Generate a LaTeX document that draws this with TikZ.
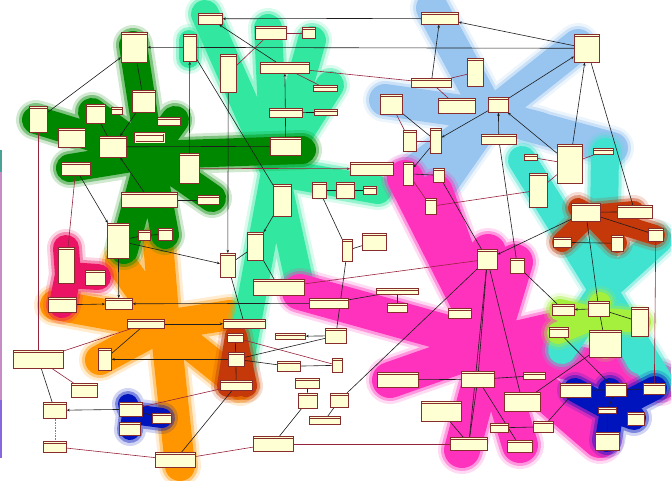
\documentclass[tikz,border=0pt]{standalone}
\usetikzlibrary{arrows.meta}

\definecolor{clsfill}{RGB}{255,255,212}
\definecolor{clsedge}{RGB}{135,45,45}
\definecolor{wire}{RGB}{30,30,30}
\definecolor{wirered}{RGB}{150,35,60}
\definecolor{hubgreen}{RGB}{0,135,0}
\definecolor{hubmint}{RGB}{50,232,160}
\definecolor{hubsky}{RGB}{152,196,240}
\definecolor{hubpink}{RGB}{255,50,190}
\definecolor{hubturq}{RGB}{64,226,208}
\definecolor{hubrust}{RGB}{196,56,10}
\definecolor{hublime}{RGB}{165,240,60}
\definecolor{hubrose}{RGB}{235,20,100}
\definecolor{huborange}{RGB}{255,150,0}
\definecolor{hubnavy}{RGB}{0,20,190}

\pgfdeclarelayer{blobs}
\pgfdeclarelayer{wires}
\pgfsetlayers{blobs,wires,main}

\tikzset{
	cls/.style 2 args={draw=clsedge, fill=clsfill, line width=.6pt, inner sep=0pt, anchor=north west,
		minimum width=#1, minimum height=#2,
		path picture={\draw[clsedge, line width=.9pt] ([yshift=-2.2pt]path picture bounding box.north west) -- ([yshift=-2.2pt]path picture bounding box.north east);}},
	ln/.style={draw=wire, line width=.6pt},
	lr/.style={draw=wirered, line width=.6pt},
	arr/.style={-{Stealth[length=3.2pt,width=2.6pt]}},
}

\newcommand{\hub}[4]{
	\draw[#1, line cap=round, line join=round, line width={#2+12}, opacity=.18] foreach \p in {#4} {#3 -- \p};
	\draw[#1, line cap=round, line join=round, line width={#2+6}, opacity=.4] foreach \p in {#4} {#3 -- \p};
	\draw[#1, line cap=round, line join=round, line width=#2] foreach \p in {#4} {#3 -- \p};
}

\begin{document}
\begin{tikzpicture}[x=1pt,y=-1pt]
	\useasboundingbox (0,0) rectangle (671,480);

	\begin{pgfonlayer}{blobs}
		\hub{huborange}{30}{(165,325)}{(120,262),(158,242),(55,305),(100,360),(180,466),(230,315),(240,385)}
		\hub{hubmint}{28}{(275,172)}{(205,14),(268,28),(312,40),(330,85),(378,190),(300,285),(238,372)}
		\hub{hubmint}{20}{(189,40)}{(189,58)}
		\hub{hubgreen}{28}{(150,155)}{(133,45),(36,120),(302,150),(70,168),(124,250),(165,235),(212,198),(175,120),(92,112)}
		\hub{hubrose}{26}{(68,275)}{(66,248),(98,277),(62,305)}
		\hub{hubrust}{22}{(236,336)}{(236,386),(228,386),(246,386)}
		\hub{hubsky}{32}{(490,115)}{(432,8),(578,45),(385,100),(405,178),(432,198),(540,128),(612,148)}
		\hub{hubpink}{36}{(490,345)}{(405,178),(435,192),(488,252),(515,262),(300,292),(390,380),(462,450),(520,445),(600,440),(660,382),(555,330)}
		\hub{hubturq}{28}{(603,290)}{(522,160),(605,152),(658,240),(658,380),(562,350),(640,360)}
		\hub{hubrust}{20}{(590,215)}{(634,211),(655,235),(562,242),(617,243),(578,208)}
		\hub{hublime}{22}{(595,318)}{(560,310),(640,322),(558,333),(605,345),(600,303)}
		\hub{hubnavy}{20}{(132,414)}{(128,404),(162,418),(130,430)}
		\hub{hubnavy}{24}{(612,410)}{(575,390),(655,388),(607,440),(634,418),(610,390)}
		\draw[hubmint!70!violet, line width=2.2pt] (1,150) -- (1,172);
		\draw[violet!45, line width=2.2pt] (1,172) -- (1,400);
		\draw[blue!55!violet!60, line width=2.2pt] (1,400) -- (1,458);
	\end{pgfonlayer}

	\node[cls={24}{11}] (a1) at (198,13) {};
	\node[cls={31}{13}] (a2) at (255,26) {};
	\node[cls={13}{11}] (a3) at (302,27) {};
	\node[cls={26}{30}] (a4) at (121,32) {};
	\node[cls={13}{27}] (a5) at (183,34) {};
	\node[cls={16}{38}] (a6) at (220,54) {};
	\node[cls={49}{11}] (a7) at (260,62) {};
	\node[cls={24}{6}] (a8) at (313,85) {};
	\node[cls={18}{26}] (a9) at (29,106) {};
	\node[cls={19}{19}] (a10) at (86,104) {};
	\node[cls={11}{7}] (a11) at (111,107) {};
	\node[cls={23}{22}] (a12) at (132,90) {};
	\node[cls={23}{8}] (a13) at (157,117) {};
	\node[cls={27}{19}] (a14) at (58,128) {};
	\node[cls={27}{21}] (a15) at (99,136) {};
	\node[cls={29}{9}, double=clsfill] (a16) at (135,133) {};
	\node[cls={33}{9}] (a17) at (269,108) {};
	\node[cls={23}{6}] (a18) at (314,109) {};
	\node[cls={31}{18}] (a19) at (270,137) {};
	\node[cls={29}{13}] (a20) at (61,162) {};
	\node[cls={20}{30}] (a21) at (179,153) {};
	\node[cls={56}{15}] (a22) at (121,192) {};
	\node[cls={22}{9}] (a23) at (197,195) {};
	\node[cls={18}{32}] (a24) at (273,184) {};
	\node[cls={14}{16}] (a25) at (312,182) {};
	\node[cls={18}{16}] (a26) at (336,182) {};
	\node[cls={13}{8}] (a27) at (363,186) {};
	\node[cls={22}{35}] (a28) at (107,223) {};
	\node[cls={12}{10}] (a29) at (138,230) {};
	\node[cls={14}{12}] (a30) at (158,228) {};
	\node[cls={16}{28}] (a31) at (247,232) {};

	\node[cls={37}{12}] (b1) at (421,12) {};
	\node[cls={25}{28}] (b2) at (574,34) {};
	\node[cls={16}{28}] (b3) at (467,58) {};
	\node[cls={40}{9}] (b4) at (411,78) {};
	\node[cls={22}{20}] (b5) at (380,94) {};
	\node[cls={37}{15}] (b6) at (438,98) {};
	\node[cls={20}{15}] (b7) at (488,97) {};
	\node[cls={13}{21}] (b8) at (403,130) {};
	\node[cls={11}{25}] (b9) at (430,128) {};
	\node[cls={35}{10}] (b10) at (481,134) {};
	\node[cls={13}{6}] (b11) at (524,154) {};
	\node[cls={25}{39}] (b12) at (557,144) {};
	\node[cls={20}{6}] (b13) at (593,148) {};
	\node[cls={43}{13}] (b14) at (350,162) {};
	\node[cls={10}{23}] (b15) at (403,162) {};
	\node[cls={11}{14}] (b16) at (433,168) {};
	\node[cls={18}{34}] (b17) at (529,173) {};
	\node[cls={11}{16}] (b18) at (425,198) {};
	\node[cls={29}{18}] (b19) at (571,203) {};
	\node[cls={35}{13}] (b20) at (617,205) {};
	\node[cls={15}{13}] (b21) at (648,228) {};
	\node[cls={18}{10}] (b22) at (553,237) {};
	\node[cls={12}{16}] (b23) at (611,235) {};
	\node[cls={24}{17}] (b24) at (362,233) {};
	\node[cls={10}{22}] (b25) at (342,239) {};

	\node[cls={16}{36}] (c1) at (58,247) {};
	\node[cls={15}{24}] (c2) at (220,253) {};
	\node[cls={20}{15}] (c3) at (85,270) {};
	\node[cls={51}{16}] (c4) at (253,279) {};
	\node[cls={28}{15}] (c5) at (48,297) {};
	\node[cls={27}{11}] (c6) at (105,298) {};
	\node[cls={39}{10}] (c7) at (309,298) {};
	\node[cls={37}{9}] (c8) at (127,319) {};
	\node[cls={42}{9}] (c9) at (223,319) {};
	\node[cls={16}{9}] (c10) at (227,333) {};
	\node[cls={30}{6}] (c11) at (275,333) {};
	\node[cls={21}{15}] (c12) at (325,328) {};
	\node[cls={50}{18}] (c13) at (13,350) {};
	\node[cls={13}{22}] (c14) at (98,348) {};
	\node[cls={16}{14}] (c15) at (228,352) {};
	\node[cls={23}{10}] (c16) at (277,361) {};
	\node[cls={10}{14}] (c17) at (332,358) {};
	\node[cls={32}{10}] (c18) at (220,380) {};
	\node[cls={24}{10}] (c19) at (295,378) {};
	\node[cls={26}{14}] (c20) at (71,383) {};
	\node[cls={19}{15}] (c21) at (298,393) {};
	\node[cls={18}{14}] (c22) at (330,393) {};
	\node[cls={23}{16}] (c23) at (43,402) {};
	\node[cls={23}{14}] (c24) at (119,402) {};
	\node[cls={19}{10}] (c25) at (152,413) {};
	\node[cls={21}{13}] (c26) at (119,422) {};
	\node[cls={31}{8}] (c27) at (309,416) {};
	\node[cls={23}{11}] (c28) at (43,441) {};
	\node[cls={40}{15}] (c29) at (253,436) {};
	\node[cls={40}{15}] (c30) at (155,452) {};

	\node[cls={20}{20}] (d1) at (477,249) {};
	\node[cls={14}{15}] (d2) at (510,258) {};
	\node[cls={42}{6}] (d3) at (376,288) {};
	\node[cls={20}{9}] (d4) at (387,303) {};
	\node[cls={23}{10}] (d5) at (448,308) {};
	\node[cls={22}{11}] (d6) at (552,304) {};
	\node[cls={21}{15}] (d7) at (588,301) {};
	\node[cls={17}{29}] (d8) at (631,307) {};
	\node[cls={19}{10}] (d9) at (549,327) {};
	\node[cls={32}{27}] (d10) at (589,330) {};
	\node[cls={41}{15}] (d11) at (377,372) {};
	\node[cls={33}{16}] (d12) at (461,371) {};
	\node[cls={22}{7}] (d13) at (523,372) {};
	\node[cls={36}{19}] (d14) at (504,392) {};
	\node[cls={31}{14}] (d15) at (560,383) {};
	\node[cls={21}{13}] (d16) at (605,383) {};
	\node[cls={22}{11}] (d17) at (643,383) {};
	\node[cls={40}{20}] (d18) at (421,401) {};
	\node[cls={18}{6}] (d19) at (598,407) {};
	\node[cls={17}{13}] (d20) at (627,412) {};
	\node[cls={18}{9}] (d21) at (490,423) {};
	\node[cls={20}{11}] (d22) at (533,421) {};
	\node[cls={37}{13}] (d23) at (450,437) {};
	\node[cls={25}{12}] (d24) at (507,440) {};
	\node[cls={24}{18}] (d25) at (595,432) {};

	\begin{pgfonlayer}{wires}
		\draw[ln, arr] (b1) -- (a1);
		\draw[ln, arr] (a7) -- (a1);
		\draw[ln, arr] (b2) -- (a4);
		\draw[ln, arr] (a9) -- (a4);
		\draw[ln] (a4) -- (a12);
		\draw[ln, arr] (a12) -- (a15);
		\draw[ln] (a10) -- (a15);
		\draw[ln, arr] (a22) -- (a15);
		\draw[ln] (a15) -- (a19);
		\draw[ln, arr] (a19) -- (a7);
		\draw[ln] (a17) -- (a18);
		\draw[lr] (a2) -- (a6);
		\draw[lr] (a2) -- (a3);
		\draw[lr] (a7) -- (b4);
		\draw[lr] (a7) -- (a8);
		\draw[ln, arr] (a21) -- (a5);
		\draw[ln] (a5) -- (a24);
		\draw[ln, arr] (a6) -- (c2);
		\draw[lr, arr] (a21) -- (b14);
		\draw[lr] (a20) -- (c1);
		\draw[ln, arr] (a20) -- (a28);
		\draw[ln] (a23) -- (a22);
		\draw[lr] (a9) -- (c13);
		\draw[ln, arr] (a24) -- (a31);
		\draw[ln] (a25) -- (a26);
		\draw[ln] (a26) -- (a27);
		\draw[ln] (a25) -- (b25);
		\draw[ln] (a28) -- (a29);
		\draw[ln] (a29) -- (a30);
		\draw[ln, arr] (b2) -- (b1);
		\draw[ln, arr] (b4) -- (b1);
		\draw[lr] (b4) -- (b3);
		\draw[lr] (b4) -- (b6);
		\draw[ln, arr] (b7) -- (b2);
		\draw[ln, arr] (b7) -- (b9);
		\draw[ln, arr] (b10) -- (b7);
		\draw[ln, arr] (b12) -- (b7);
		\draw[lr] (b5) -- (b8);
		\draw[ln] (b5) -- (b9);
		\draw[lr] (b8) -- (b9);
		\draw[ln, arr] (b9) -- (b15);
		\draw[ln, arr] (b12) -- (b2);
		\draw[ln] (b2) -- (b20);
		\draw[lr] (b11) -- (b12);
		\draw[lr] (b12) -- (b13);
		\draw[lr] (b12) -- (b17);
		\draw[lr] (b17) -- (b18);
		\draw[lr] (b15) -- (b18);
		\draw[ln] (b15) -- (b16);
		\draw[ln] (b16) -- (d1);
		\draw[ln] (b10) -- (d2);
		\draw[ln, arr] (b19) -- (d1);
		\draw[ln] (b19) -- (b20);
		\draw[ln] (b19) -- (b21);
		\draw[ln] (b19) -- (d7);
		\draw[ln] (b22) -- (b23);
		\draw[lr] (b21) -- (d17);
		\draw[ln] (c2) -- (a31);
		\draw[ln] (a31) -- (c4);
		\draw[ln] (c2) -- (c9);
		\draw[ln] (b25) -- (b24);
		\draw[ln] (b25) -- (c12);
		\draw[ln, arr] (c7) -- (c6);
		\draw[ln] (c7) -- (d3);
		\draw[ln] (d3) -- (d4);
		\draw[lr] (c4) -- (d1);
		\draw[ln, arr] (c5) -- (c6);
		\draw[ln, arr] (a28) -- (c6);
		\draw[ln, arr] (a28) -- (c2);
		\draw[ln, arr] (c8) -- (c9);
		\draw[lr] (c8) -- (c13);
		\draw[ln] (c8) -- (c14);
		\draw[ln, arr] (c15) -- (c14);
		\draw[ln] (c10) -- (c18);
		\draw[lr] (c10) -- (c17);
		\draw[ln] (c12) -- (c15);
		\draw[ln] (c16) -- (c15);
		\draw[ln] (c16) -- (c17);
		\draw[ln, arr] (c12) -- (c11);
		\draw[lr] (c24) -- (c18);
		\draw[ln, arr] (c24) -- (c23);
		\draw[ln] (c24) -- (c25);
		\draw[ln] (c13) -- (c23);
		\draw[lr] (c13) -- (c20);
		\draw[ln, densely dotted, gray] (c23) -- (c28);
		\draw[lr] (c28) -- (c30);
		\draw[ln] (c30) -- (c18);
		\draw[lr] (c30) -- (c29);
		\draw[ln] (c29) -- (c21);
		\draw[ln] (c19) -- (c21);
		\draw[ln] (c22) -- (c27);
		\draw[lr] (c29) -- (d23);
		\draw[ln] (d1) -- (c22);
		\draw[ln] (d1) -- (d12);
		\draw[ln] (d1) -- (d23);
		\draw[ln] (d1) -- (d14);
		\draw[ln] (d2) -- (d6);
		\draw[ln] (d11) -- (d12);
		\draw[ln] (d12) -- (d13);
		\draw[ln] (d12) -- (d23);
		\draw[ln] (d12) -- (d24);
		\draw[ln] (d18) -- (d23);
		\draw[ln] (d21) -- (d22);
		\draw[ln] (d22) -- (d15);
		\draw[ln] (d14) -- (d10);
		\draw[ln] (d9) -- (d16);
		\draw[ln, arr] (d7) -- (d6);
		\draw[ln] (d7) -- (d8);
		\draw[ln] (d7) -- (d10);
		\draw[ln] (d16) -- (d19);
		\draw[ln] (d19) -- (d25);
		\draw[ln] (d15) -- (d16);
		\draw[ln] (d16) -- (d17);
	\end{pgfonlayer}
\end{tikzpicture}
\end{document}
